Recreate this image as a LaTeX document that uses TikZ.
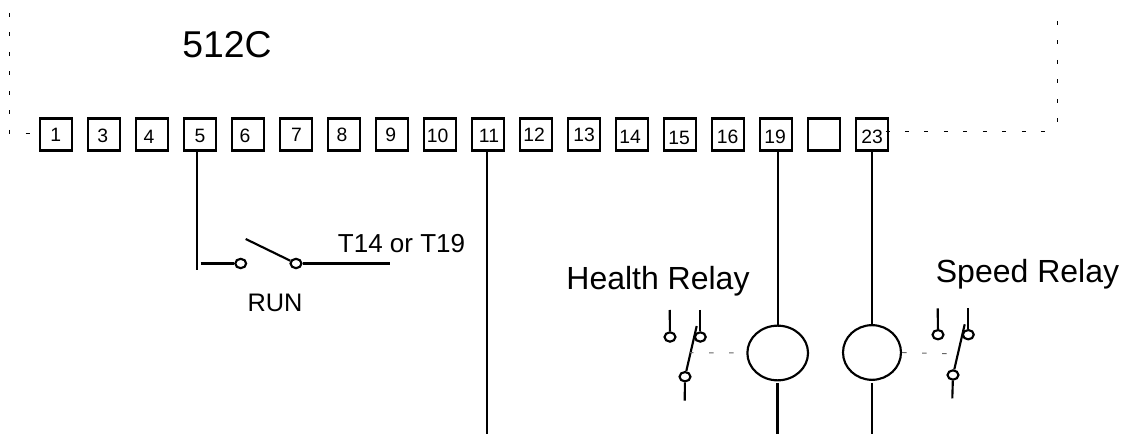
\documentclass[tikz,border=0pt]{standalone}
\usepackage{fontspec}
\setmainfont{Liberation Sans}
\usetikzlibrary{shapes.geometric}
\tikzset{
  x=0.75pt,y=-0.75pt,
  term/.style={draw,line width=1.6pt,minimum size=24pt,inner sep=0pt,anchor=north west},
  termlbl/.style={inner sep=0pt,anchor=base,font=\fontsize{14.5}{15}\selectfont},
  wire/.style={line width=1.6pt},
  cont/.style={draw,shape=ellipse,line width=1.6pt,minimum width=8.2pt,minimum height=7pt,inner sep=0pt},
  coil/.style={draw,shape=ellipse,line width=1.6pt,inner sep=0pt},
  link/.style={line width=0.7pt,gray!80!black,dash pattern=on 3.4pt off 11.6pt},
  frame/.style={line width=0.6pt,dash pattern=on 3pt off 11.6pt},
  lbl/.style={inner sep=0pt,anchor=base}
}
\begin{document}
\begin{tikzpicture}
\useasboundingbox (0,0) rectangle (1125,434);
% frame
\coordinate (f1) at (9.3,13);
\coordinate (f2) at (9.3,133);
\coordinate (f3) at (1057.3,131);
\coordinate (f4) at (1057.3,21);
\coordinate (f5) at (885.5,131);
\node[lbl,font=\fontsize{28}{30}\selectfont] (title) at (227,58) {512C};
% terminals
\foreach \n/\t/\cx/\by in {0/1/55.7/142,1/3/102.7/142.2,2/4/149/144,3/5/200/142.2,4/6/245/142.2,5/7/296.5/142,6/8/342/142,7/9/390.7/142,8/10/437.7/143,9/11/489/142.5,10/12/534/142,11/13/584/142,12/14/630/144,13/15/679/144.5,14/16/727.7/143.5,15/19/775/143.5,16/{}/823/143,17/23/872/143.5}{
  \pgfmathsetmacro{\xx}{38.7+48*\n}
  \node[term] (t\n) at (\xx,117.5) {};
  \node[termlbl] (lb\n) at (\cx,\by) {\t};
}
\draw[frame] (f1) -- (f2) -- (t0.west |- f2);
\draw[frame] (f4) -- (f3 |- 0,124);
\draw[frame] (f5) -- (f3);
% RUN
\coordinate (r0) at (197.3,270);
\coordinate (r1) at (200.7,263.5);
\coordinate (r2) at (245.7,239);
\coordinate (r3) at (390,263.5);
\node[cont] (c1) at (240.7,263.5) {};
\node[cont] (c2) at (296,263.5) {};
\draw[wire] (t3.south -| r0) -- (r0);
\draw[wire] (r1) -- (c1);
\draw[wire] (r2) -- (c2);
\draw[wire] (c2) -- (r3);
\node[lbl,font=\fontsize{19.5}{21}\selectfont] (tl) at (401.5,253) {T14 or T19};
\node[lbl,font=\fontsize{19}{21}\selectfont] (run) at (275,311.7) {RUN};
% terminal 11
\coordinate (e11) at (487.3,434);
\draw[wire] (t9.south -| e11) -- (e11);
% coils
\node[coil,minimum width=45.5pt,minimum height=41pt] (k1) at (777.7,353) {};
\node[coil,minimum width=43.5pt,minimum height=41pt] (k2) at (872,352.5) {};
\coordinate (b1) at (777.5,383);
\coordinate (b2) at (872.2,383);
\coordinate (e1) at (777.5,434);
\coordinate (e2) at (872.2,434);
\draw[wire] (t15.south -| k1) -- (k1.north);
\draw[wire] (t17.south -| k2) -- (k2.north);
\draw[wire] (b1) -- (e1);
\draw[wire] (b2) -- (e2);
\node[lbl,font=\fontsize{24}{26}\selectfont] (hr) at (658,289.3) {Health Relay};
\node[lbl,font=\fontsize{24}{26}\selectfont] (sr) at (1027.5,282.5) {Speed Relay};
% health contacts
\node[cont] (h1) at (670,337) {};
\node[cont] (h2) at (700.3,337) {};
\node[cont] (h3) at (685,376.7) {};
\coordinate (h1t) at (669.7,310);
\coordinate (h2t) at (700.3,310);
\coordinate (h3b) at (684.7,400.7);
\coordinate (h4) at (696.7,326);
\draw[wire] (h1t) -- (h1);
\draw[wire] (h2t) -- (h2);
\draw[wire] (h3) -- (h3b);
\draw[wire] (h3) -- (h4);
\coordinate (l1) at (689,352.7);
\draw[link] (l1) -- (k1.west);
% speed contacts
\node[cont] (s1) at (938,334.7) {};
\node[cont] (s2) at (968.3,334.7) {};
\node[cont] (s3) at (953,375) {};
\coordinate (s1t) at (937.7,308.3);
\coordinate (s2t) at (968.3,308.3);
\coordinate (s3b) at (952.3,398.3);
\coordinate (s4) at (964.7,324.3);
\draw[wire] (s1t) -- (s1);
\draw[wire] (s2t) -- (s2);
\draw[wire] (s3) -- (s3b);
\draw[wire] (s3) -- (s4);
\coordinate (l2) at (947,353.7);
\draw[link] (k2.east) -- (l2);
\end{tikzpicture}
\end{document}
